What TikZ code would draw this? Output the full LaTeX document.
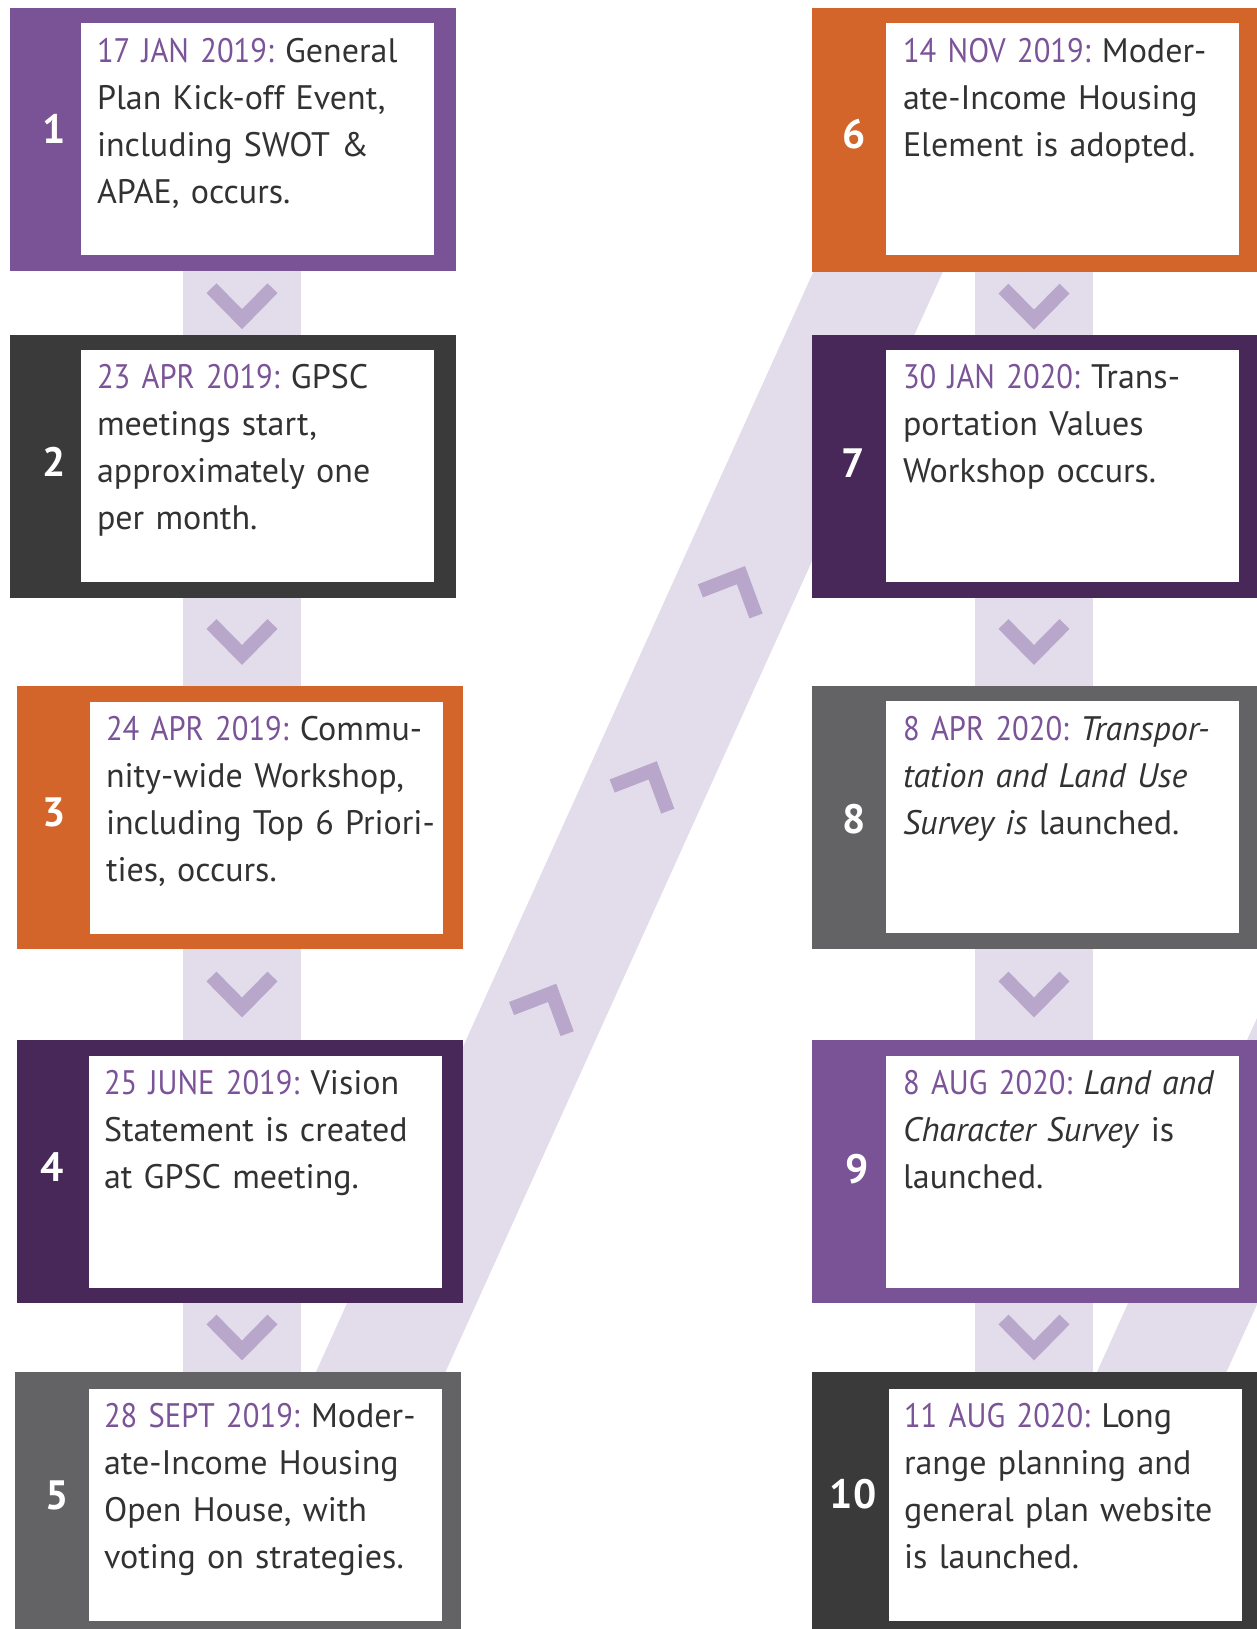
\documentclass[tikz,border=0pt]{standalone}
\usepackage{fontspec}
\setmainfont{PT Sans}[WordSpace = 0.85]
\newfontfamily\datefont{PT Sans}[WordSpace = 0.85, FakeStretch = 0.9]
\usepackage{tikz}
\usetikzlibrary{backgrounds}
\usetikzlibrary{positioning}
\usetikzlibrary{calc}
\definecolor{evpurple}{RGB}{122,82,150}
\definecolor{evdark}{RGB}{58,58,58}
\definecolor{evorange}{RGB}{211,101,42}
\definecolor{evplum}{RGB}{71,40,88}
\definecolor{evgray}{RGB}{99,99,101}
\definecolor{evdate}{RGB}{123,83,152}
\definecolor{evtext}{RGB}{50,50,50}
\definecolor{evband}{RGB}{227,220,235}
\definecolor{evchev}{RGB}{185,166,203}
\newcommand{\evdate}[1]{{\datefont\textcolor{evdate}{#1}}}
\frenchspacing

\begin{document}
\begin{tikzpicture}[
            x = 0.5pt, y = -0.5pt, % one unit = one pixel, y pointing down
            every node/.style = {inner sep = 0pt, outer sep = 0pt},
            frame/.style = {anchor = north west, minimum width = 223pt, minimum height = 131.5pt},
            rframe/.style = {frame, minimum width = 225pt},
            card/.style = {anchor = north west, fill = white, minimum width = 176.5pt, minimum height = 116pt},
            num/.style = {text = white, font = \fontsize{20.5pt}{24pt}\selectfont\bfseries},
            event/.style = {anchor = base west, text width = 200pt, align = left, text = evtext,
                font = \fontsize{17pt}{23.65pt}\selectfont},
            band/.style = {line width = 59pt, draw = evband},
            chevron/.style = {line width = 7pt, draw = evchev, miter limit = 10},
            chev/.pic = {\draw[chevron] (-30.5,-18) -- (0,13) -- (30.5,-18);}
        ]

        \useasboundingbox (0,0) rectangle (1257,1629);
        \clip (0,0) rectangle (1257,1629);

        % left column
        \node[frame, fill = evpurple] (B1) at (10,8) {};
        \node[card] (W1) at (81,23) {};
        \node[num] (N1) at (54,129) {1};
        \node[event] (T1) at (97,62) {\evdate{17 JAN 2019:} General\\Plan Kick-off Event,\\including SWOT \&\\APAE, occurs.};

        \node[frame, fill = evdark] (B2) at (10,335) {};
        \node[card] (W2) at (81,350) {};
        \node[num] (N2) at (54,462) {2};
        \node[event] (T2) at (97,388) {\evdate{23 APR 2019:} GPSC\\meetings start,\\approximately one\\per month.};

        \node[frame, fill = evorange] (B3) at (17,686) {};
        \node[card] (W3) at (90,702) {};
        \node[num] (N3) at (54,812) {3};
        \node[event] (T3) at (106,740) {\evdate{24 APR 2019:} Commu-\\nity-wide Workshop,\\including Top 6 Priori-\\ties, occurs.};

        \node[frame, fill = evplum] (B4) at (17,1040) {};
        \node[card] (W4) at (89,1056) {};
        \node[num] (N4) at (52,1167) {4};
        \node[event] (T4) at (104,1094) {\evdate{25 JUNE 2019:} Vision\\Statement is created\\at GPSC meeting.};

        \node[frame, fill = evgray, minimum height = 134pt] (B5) at (15,1372) {};
        \node[card] (W5) at (89,1389) {};
        \node[num] (N5) at (57,1495) {5};
        \node[event] (T5) at (104,1427) {\evdate{28 SEPT 2019:} Moder-\\ate-Income Housing\\Open House, with\\voting on strategies.};

        % right column
        \node[rframe, fill = evorange, minimum height = 132pt] (B6) at (812,8) {};
        \node[card] (W6) at (886,23) {};
        \node[num] (N6) at (854,134) {6};
        \node[event] (T6) at (903,62) {\evdate{14 NOV 2019:} Moder-\\ate-Income Housing\\Element is adopted.};

        \node[rframe, fill = evplum] (B7) at (812,335) {};
        \node[card] (W7) at (886,350) {};
        \node[num] (N7) at (853,463) {7};
        \node[event] (T7) at (903,388) {\evdate{30 JAN 2020:} Trans-\\portation Values\\Workshop occurs.};

        \node[rframe, fill = evgray] (B8) at (812,686) {};
        \node[card] (W8) at (886,701) {};
        \node[num] (N8) at (854,819) {8};
        \node[event] (T8) at (903,740) {\evdate{8 APR 2020:} \textit{Transpor-}\\\textit{tation and Land Use}\\\textit{Survey is} launched.};

        \node[rframe, fill = evpurple] (B9) at (812,1040) {};
        \node[card] (W9) at (886,1056) {};
        \node[num] (N9) at (857,1169) {9};
        \node[event] (T9) at (903,1094) {\evdate{8 AUG 2020:} \textit{Land and}\\\textit{Character Survey} is\\launched.};

        \node[rframe, fill = evdark, minimum height = 134pt] (B10) at (812,1372) {};
        \node[card] (W10) at (889,1389) {};
        \node[num] (N10) at (853,1494) {10};
        \node[event] (T10) at (904,1427) {\evdate{11 AUG 2020:} Long\\range planning and\\general plan website\\is launched.};

        % connectors behind the boxes
        \begin{scope}[on background layer]
            \clip (0,0) rectangle (1257,1629);
            \coordinate (cL) at (242,0);
            \coordinate (cR) at (1034,0);

            \draw[band] (B1.south -| cL) -- (B2.north -| cL) pic[pos = .55] {chev};
            \draw[band] (B2.south -| cL) -- (B3.north -| cL) pic[pos = .5] {chev};
            \draw[band] (B3.south -| cL) -- (B4.north -| cL) pic[pos = .5] {chev};
            \draw[band] (B4.south -| cL) -- (B5.north -| cL) pic[pos = .5] {chev};

            \draw[band] (B6.south -| cR) -- (B7.north -| cR) pic[pos = .55] {chev};
            \draw[band] (B7.south -| cR) -- (B8.north -| cR) pic[pos = .5] {chev};
            \draw[band] (B8.south -| cR) -- (B9.north -| cR) pic[pos = .5] {chev};
            \draw[band] (B9.south -| cR) -- (B10.north -| cR) pic[pos = .5] {chev};

            % 5 -> 6 goes back up
            \coordinate (d5) at (359,1420);
            \coordinate (d6) at (897,230);
            \draw[band] (d5) -- (d6)
                pic[pos = .349, rotate = 155.7] {chev}
                pic[pos = .536, rotate = 155.7] {chev}
                pic[pos = .700, rotate = 155.7] {chev};

            % 10 -> onwards
            \coordinate (d10) at (1140,1420);
            \coordinate (dR) at (1400,845);
            \draw[band] (d10) -- (dR);
        \end{scope}

\end{tikzpicture}
\end{document}
